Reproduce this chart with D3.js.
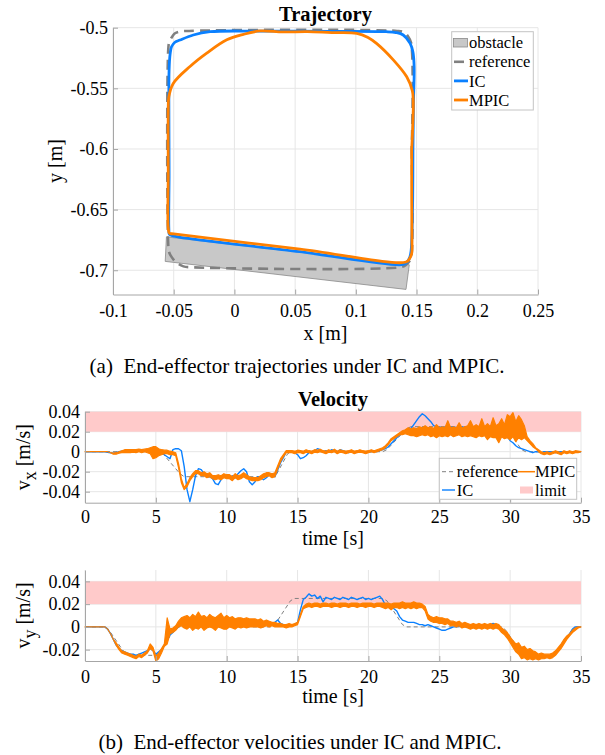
<!DOCTYPE html>
<html><head><meta charset="utf-8">
<script src="https://cdn.jsdelivr.net/npm/d3@7/dist/d3.min.js"></script>
<style>body{margin:0;background:#fff;} svg text{font-family:"Liberation Serif","Times New Roman",serif;}</style>
</head><body><svg id="c" width="605" height="755"></svg>
<script>
// ---------------- DATA ----------------
// Trajectory plot (metres)
const xTicks = [-0.1,-0.05,0,0.05,0.1,0.15,0.2,0.25];
const xTickLabels = ["-0.1","-0.05","0","0.05","0.1","0.15","0.2","0.25"];
const yTicks = [-0.5,-0.55,-0.6,-0.65,-0.7];
const yTickLabels = ["-0.5","-0.55","-0.6","-0.65","-0.7"];

const obstacleX = [-0.056, 0.144, 0.1413, -0.057];
const obstacleY = [-0.6725, -0.6955, -0.7158, -0.6927];

const refX = [0.146,0.146,0.1445,0.141,0.1365,-0.036,-0.042,-0.048,-0.0518,-0.0538,-0.0545,-0.0545,-0.0536,-0.051,-0.0489,-0.045,-0.040,0.134,0.1395,0.143,0.1455,0.146];
const refY = [-0.60,-0.686,-0.692,-0.6958,-0.6975,-0.6975,-0.6968,-0.6935,-0.689,-0.685,-0.679,-0.518,-0.5116,-0.507,-0.5046,-0.5032,-0.5027,-0.5027,-0.5038,-0.5072,-0.5125,-0.60];

const icX = [0.147,0.1468,0.1462,0.1455,0.1445,0.142,0.1378,0.054,-0.050,-0.0535,-0.0540,-0.0538,-0.0540,-0.0538,-0.0530,-0.0518,-0.0490,-0.0448,-0.0339,-0.020,0.02,0.08,0.125,0.133,0.139,0.1447,0.147,0.148,0.1475,0.147];
const icY = [-0.60,-0.64,-0.67,-0.684,-0.689,-0.6935,-0.6954,-0.6847,-0.6718,-0.6705,-0.666,-0.62,-0.56,-0.535,-0.522,-0.5157,-0.5120,-0.5102,-0.506,-0.5033,-0.5028,-0.503,-0.5033,-0.504,-0.506,-0.5129,-0.520,-0.532,-0.56,-0.60];

const mpicX = [0.146,0.146,0.1462,0.146,0.1445,0.1414,0.054,-0.050,-0.0535,-0.0545,-0.0545,-0.0545,-0.0540,-0.0504,-0.0366,-0.0228,-0.0063,0.0074,0.021,0.04,0.06,0.08,0.1007,0.110,0.117,0.131,0.1419,0.1465,0.1473,0.1465,0.146];
const mpicY = [-0.60,-0.64,-0.675,-0.686,-0.690,-0.6932,-0.6826,-0.6700,-0.6695,-0.665,-0.62,-0.57,-0.557,-0.546,-0.532,-0.521,-0.510,-0.5055,-0.5027,-0.5035,-0.5033,-0.504,-0.5046,-0.508,-0.5129,-0.5267,-0.5405,-0.552,-0.5597,-0.59,-0.60];

// Velocity plots (values in mm/s, sampled every 0.2 s from 0 to 35 s)
const timeTicks = [0,5,10,15,20,25,30,35];
const timeTickLabels = ["0","5","10","15","20","25","30","35"];
const vxTicks = [-40,-20,0,20,40];
const vxTickLabels = ["-0.04","-0.02","0","0.02","0.04"];
const vyTicks = [-20,0,20,40];
const vyTickLabels = ["-0.02","0","0.02","0.04"];
const limitLow = 20, limitHigh = 40;

const vxIC = [
 0,0,0,0,0,  0,0,0,-0.5,-1,  -1.5,-1,0,0.5,1,  0.5,1,0.5,1.5,1,  0.5,1,1.5,0.5,-0.5,
 0,-1,-2,-3,-5,  -7,2,3,3,1,  -15,-38,-50,-38,-24,  -17,-18,-22,-25,-25,  -27,-32,-33,-28,-24,
 -25,-26,-24,-26,-22,  -19,-17,-20,-30,-33,  -30,-25,-26,-28,-26,  -23,-22,-25,-18,-11,  -6,0,0,0,-1,
 -3,-7,-6,-4,-1,  0,1,3,2,0,  1,0,2,1,0,  2,1,0,-1,1,  0,0,1,0,0,
 0,0,1,0,1,  2,3,5,8,11,  14,17,19,21,22,  23,27,31,35,38,  36,33,30,26,25,
 24,25,23,25,24,  25,24,23,25,24,  23,25,24,24,25,  24,23,25,24,25,  24,23,22,19,15,
 11,9,6,4,3,  2,1,0,-1,0,  0,-1,0,0,0,  0,-1,0,0,0,  0,0,0,0,0,  0];
// MPIC is very noisy: lower / upper edge of the jitter band per sample
const vxMPICLow = [
 0,0,0,0,0,  0,0,0,0,-1,  -2.5,-2.5,-1.5,-1,-1,  -1,-1,-0.5,-1,0,  -1,0,-1,-2,-7,
 -6,-4,-3,-2,-2,  -3,-3,-4,-16,-31,  -38,-35,-29,-25,-22,  -22,-24,-24,-26,-25,  -27,-28,-27,-28,-26,
 -27,-27,-29,-26,-28,  -27,-25,-27,-28,-29,  -29,-29,-28,-26,-25,  -24,-26,-25,-17,-10,  -5,-1,-1,-1,-2,
 -1,-1,-2,-0.5,-1,  -2,-0.5,-1,0,-1,  -2,-0.5,-1,0,-2,  -0.5,-1,-2,-1,-0.5,  -2,-1,-0.5,-1,-2,
 -1,0,-1,0,1,  2,4,7,11,13,  15,17,17,18,17,  16,16,15,16,17,  16,17,15,16,14,
 16,15,16,15,17,  15,16,17,15,16,  15,16,15,14,16,  15,16,12,15,14,  14,9,15,13,14,
 12,15,10,14,12,  14,11,8,5,3,  0,-2,-3,-2,-3,  -2,-1,-2,-3,-1,  -2,-1,-2,-1,-1,  0];
const vxMPICHigh = [
 0,0,0,0,0,  0,0,0,0,-1,  -1.5,-1,0,1,2,  2,2,2,2,2.5,  2,2.5,3,4,5,
 5,3,2,1.5,1.5,  0.5,0,-1,-12,-27,  -36,-32,-26,-22,-19,  -19,-21,-20,-22,-21,  -24,-24,-23,-24,-22,
 -23,-23,-25,-22,-24,  -23,-21,-23,-25,-26,  -26,-26,-24,-22,-21,  -21,-22,-21,-14,-7,  -3,1,1,1,0.5,
 1.5,1,0.5,2,1,  0.5,2,1.5,2.5,1,  0.5,2,1,2.5,0.5,  2,1,0.5,1,2,  0.5,1,2,1,0.5,
 1,2,1,2,3,  4,6,9,13,15,  17,19,21,22,24,  23,24,23,25,24,  26,24,25,23,27,
 24,25,24,31,24,  25,24,29,24,25,  26,31,25,27,25,  33,25,28,25,34,  26,28,33,27,37,
 35,39,30,36,32,  26,15,11,8,4,  2,0,-1,0,-1,  0,1,0,-1,1,  0,1,0,1,0.5,  0];
const vyIC = [
 0,0,0,0,0,  0,0,0,-2,-6,  -11,-16,-19,-21,-22,  -23,-24,-24,-25,-24,  -23,-22,-21,-19,-21,
 -24,-22,-20,-16,-12,  -7,-5,-2,0,2,  2,3,2,3,4,  3,4,3,4,3,  4,5,3,4,3,
 4,3,3,4,2,  3,4,3,2,3,  3,2,3,3,2,  3,2,4,6,3,  2,1,1,2,2,
 4,15,24,26,29,  27,28,25,27,22,  26,25,24,26,25,  24,26,25,24,26,  25,24,25,26,24,
 25,24,25,26,27,  24,19,20,18,16,  14,9,6,5,4,  4,4,3,2,2,  1,2,1,0,-1,
 -2,-3,-3,-2,-1,  0,0,1,0,1,  0,1,0,1,2,  1,0,1,2,3,  2,0,-2,-4,-7,
 -10,-13,-16,-19,-22,  -24,-25,-26,-26,-25,  -27,-26,-25,-26,-27,  -26,-23,-20,-16,-12,  -9,-6,-2,0,0,  0];
const vyMPICLow = [
 0,0,0,0,0,  0,0,0,-2,-6,  -11,-16,-20,-23,-24,  -25,-26,-27,-28,-26,  -27,-25,-23,-19,-21,
 -30,-28,-23,-17,-15,  -6,-5,-3,0,1,  -1,-2,0,-3,-1,  -2,0,-3,-1,0,  -1,-3,0,-1,-2,
 -2,0,-1,-2,0,  -1,0,-1,0,0,  0,0,-1,0,1,  0,1,0,0,0,  0,-1,0,0,1,
 2,9,16,17,18,  17,18,18,17,18,  18,18,17,18,18,  17,18,18,17,18,  18,17,18,18,17,
 18,18,17,18,18,  17,16,17,15,17,  17,16,17,16,17,  16,17,16,17,17,  14,7,5,4,4,
 3,3,2,3,1,  1,0,1,-1,0,  -1,-2,-1,-2,-1,  -2,-1,-2,-1,-2,  -1,-2,-5,-7,-10,
 -14,-18,-22,-24,-28,  -27,-29,-28,-29,-28,  -29,-28,-28,-27,-28,  -27,-25,-22,-19,-15,  -11,-8,-5,-3,-1,  0];
const vyMPICHigh = [
 0,0,0,0,0,  0,0,0,-2,-6,  -11,-14,-18,-21,-22,  -23,-24,-25,-26,-24,  -25,-23,-21,-15,-18,
 -26,-23,-19,-15,8,  -2,-1,1,5,8,  9,10,8,11,9,  13,9,10,8,11,  9,8,10,12,8,
 10,8,9,7,8,  8,7,8,7,7,  7,6,7,5,6,  5,4,4,3,3,  2,2,3,2,3,
 4,11,18,20,21,  20,21,21,20,21,  21,20,21,21,20,  21,21,21,20,21,  21,21,20,21,21,
 21,21,20,21,21,  21,21,21,20,21,  21,21,22,21,21,  21,22,21,21,20,  18,11,9,8,9,
 8,8,7,7,5,  5,4,5,3,4,  3,2,3,2,3,  2,3,2,3,2,  3,2,-1,-3,-5,
 -9,-12,-15,-14,-18,  -17,-20,-19,-21,-22,  -24,-23,-24,-24,-24,  -23,-21,-18,-15,-11,  -8,-6,-3,-1,0,  0];
// reference velocity breakpoints [time s, mm/s]
const vxRefT = [0,5.2,5.5,6.7,7.0,13.2,13.5,14.3,14.6,21.0,21.3,22.7,23.0,29.5,29.8,30.8,31.1,35];
const vxRefV = [0,0,-2,-22,-25,-25,-23,-2,0,0,2,23,25,25,23,2,0,0];
const vyRefT = [0,1.4,1.7,2.8,3.1,5.0,5.3,6.3,6.6,13.1,13.4,14.5,14.8,21.0,21.3,22.4,22.7,29.4,29.7,30.8,31.1,33.0,33.3,34.4,34.7,35];
const vyRefV = [0,0,-3,-23,-25,-25,-22,-2,0,0,2,23,25,25,23,2,0,0,-3,-23,-25,-25,-22,-2,0,0];

const sampleStep = 0.2;
const time = vxIC.map((_, i) => +(i * sampleStep).toFixed(1));

// ---------------- STYLE ----------------
const BLUE = "#0a80ff", ORANGE = "#ff8000", GRAY = "#808080";
const AXC = "#a6a6a6", GRID = "#e6e6e6";
const FONT = '"Liberation Serif","Times New Roman",serif';
const svg = d3.select("#c");

function styleAxis(g, fs) {
  g.attr("font-family", FONT).attr("font-size", fs);
  g.select(".domain").attr("stroke", AXC).attr("stroke-width", 1);
  g.selectAll(".tick line").attr("stroke", AXC);
  g.selectAll(".tick text").attr("fill", "#000");
}

// ---------------- TRAJECTORY ----------------
const xT = d3.scaleLinear().domain([-0.1, 0.25]).range([113, 538]);
const yT = d3.scaleLinear().domain([-0.72, -0.5]).range([294.5, 27.7]);
const gT = svg.append("g");
gT.selectAll(".gx").data(xTicks).join("line").attr("x1", d => xT(d)).attr("x2", d => xT(d))
  .attr("y1", yT.range()[1]).attr("y2", yT.range()[0]).attr("stroke", GRID);
gT.selectAll(".gy").data(yTicks).join("line").attr("y1", d => yT(d)).attr("y2", d => yT(d))
  .attr("x1", xT.range()[0]).attr("x2", xT.range()[1]).attr("stroke", GRID);

gT.append("path").datum(obstacleX.map((x, i) => [x, obstacleY[i]]))
  .attr("d", d3.line().x(d => xT(d[0])).y(d => yT(d[1])).curve(d3.curveLinearClosed))
  .attr("fill", "#c8c8c8").attr("stroke", "#8a8a8a").attr("stroke-width", 0.8);

const lineT = d3.line().x(d => xT(d[0])).y(d => yT(d[1])).curve(d3.curveCatmullRom.alpha(0.5));
gT.append("path").datum(refX.map((x, i) => [x, refY[i]])).attr("d", lineT)
  .attr("fill", "none").attr("stroke", GRAY).attr("stroke-width", 2.6).attr("stroke-dasharray", "10,6");
gT.append("path").datum(icX.map((x, i) => [x, icY[i]])).attr("d", lineT)
  .attr("fill", "none").attr("stroke", BLUE).attr("stroke-width", 2.8).attr("stroke-linejoin", "round");
gT.append("path").datum(mpicX.map((x, i) => [x, mpicY[i]])).attr("d", lineT)
  .attr("fill", "none").attr("stroke", ORANGE).attr("stroke-width", 2.8).attr("stroke-linejoin", "round");

const axXT = gT.append("g").attr("transform", `translate(0,${yT.range()[0]})`)
  .call(d3.axisBottom(xT).tickValues(xTicks).tickFormat((d, i) => xTickLabels[i]).tickSize(-5).tickSizeOuter(0).tickPadding(9.4));
styleAxis(axXT, 18);
const axYT = gT.append("g").attr("transform", `translate(${xT.range()[0]},0)`)
  .call(d3.axisLeft(yT).tickValues(yTicks).tickFormat((d, i) => yTickLabels[i]).tickSize(-5).tickSizeOuter(0).tickPadding(5));
styleAxis(axYT, 18);

gT.append("text").attr("x", 325.5).attr("y", 20.5).attr("text-anchor", "middle")
  .attr("font-size", 20.5).attr("font-weight", "bold").text("Trajectory");
gT.append("text").attr("x", 325.5).attr("y", 340).attr("text-anchor", "middle")
  .attr("font-size", 20).text("x [m]");
gT.append("text").attr("transform", "translate(62,161) rotate(-90)").attr("text-anchor", "middle")
  .attr("font-size", 20).text("y [m]");

// legend (trajectory)
const lg = gT.append("g");
lg.append("rect").attr("x", 451.7).attr("y", 31.7).attr("width", 81.6).attr("height", 78.3)
  .attr("fill", "#fff").attr("stroke", "#c4c4c4").attr("stroke-width", 1);
const lgRows = [
  {label: "obstacle", type: "patch"},
  {label: "reference", type: "dash"},
  {label: "IC", type: "line", color: BLUE},
  {label: "MPIC", type: "line", color: ORANGE}];
lgRows.forEach((r, i) => {
  const cy = 42.7 + i * 19.1;
  if (r.type === "patch") lg.append("rect").attr("x", 453.5).attr("y", cy - 4.3).attr("width", 14).attr("height", 8.6)
      .attr("fill", "#c8c8c8").attr("stroke", "#8a8a8a").attr("stroke-width", 0.8);
  else if (r.type === "dash") lg.append("line").attr("x1", 454).attr("x2", 464).attr("y1", cy).attr("y2", cy)
      .attr("stroke", GRAY).attr("stroke-width", 2.6);
  else lg.append("line").attr("x1", 454).attr("x2", 468).attr("y1", cy).attr("y2", cy)
      .attr("stroke", r.color).attr("stroke-width", 2.8);
  lg.append("text").attr("x", 469).attr("y", cy + 5.6).attr("font-size", 16.5).text(r.label);
});

svg.append("text").attr("x", 297).attr("y", 373).attr("text-anchor", "middle").attr("font-size", 21)
  .attr("xml:space", "preserve").text("(a)  End-effector trajectories under IC and MPIC.");

// ---------------- VELOCITY ----------------
const xV = d3.scaleLinear().domain([0, 35]).range([85, 581]);
function velPlot(cfg) {
  const y = d3.scaleLinear().domain(cfg.domain).range(cfg.range);
  const g = svg.append("g");
  g.selectAll(".gx").data(timeTicks).join("line").attr("x1", d => xV(d)).attr("x2", d => xV(d))
    .attr("y1", cfg.range[1]).attr("y2", cfg.range[0]).attr("stroke", GRID);
  g.selectAll(".gy").data(cfg.ticks).join("line").attr("y1", d => y(d)).attr("y2", d => y(d))
    .attr("x1", xV.range()[0]).attr("x2", xV.range()[1]).attr("stroke", GRID);
  g.append("rect").attr("x", xV(0)).attr("width", xV(35) - xV(0))
    .attr("y", y(limitHigh)).attr("height", y(limitLow) - y(limitHigh)).attr("fill", "#ffcaca");
  g.append("path").datum(cfg.refT.map((t, i) => [t, cfg.refV[i]]))
    .attr("d", d3.line().x(d => xV(d[0])).y(d => y(d[1])))
    .attr("fill", "none").attr("stroke", GRAY).attr("stroke-width", 1).attr("stroke-dasharray", "4,3");
  const ln = d3.line().x(d => xV(d[0])).y(d => y(d[1]));
  g.append("path").datum(time.map((t, i) => [t, cfg.ic[i]])).attr("d", ln)
    .attr("fill", "none").attr("stroke", BLUE).attr("stroke-width", 1.4).attr("stroke-linejoin", "round");
  const band = d3.area().x(d => xV(d[0])).y0(d => y(d[1])).y1(d => y(d[2]));
  g.append("path").datum(time.map((t, i) => [t, cfg.mpicLow[i], cfg.mpicHigh[i]])).attr("d", band)
    .attr("fill", ORANGE).attr("stroke", ORANGE).attr("stroke-width", 1.2).attr("stroke-linejoin", "round");
  const ax = g.append("g").attr("transform", `translate(0,${cfg.range[0]})`)
    .call(d3.axisBottom(xV).tickValues(timeTicks).tickFormat((d, i) => timeTickLabels[i]).tickSize(-5).tickSizeOuter(0).tickPadding(cfg.xpad));
  styleAxis(ax, 18);
  const ay = g.append("g").attr("transform", `translate(${xV.range()[0]},0)`)
    .call(d3.axisLeft(y).tickValues(cfg.ticks).tickFormat((d, i) => cfg.tickLabels[i]).tickSize(-5).tickSizeOuter(0).tickPadding(5));
  styleAxis(ay, 18);
  g.append("text").attr("x", 333).attr("y", cfg.xlabelY).attr("text-anchor", "middle").attr("font-size", 20).text("time [s]");
  const yl = g.append("text").attr("transform", `translate(30,${(cfg.range[0] + cfg.range[1]) / 2}) rotate(-90)`)
    .attr("text-anchor", "middle").attr("font-size", 20);
  yl.append("tspan").text("v");
  yl.append("tspan").attr("dy", 6).attr("font-size", 18).text(cfg.sub);
  yl.append("tspan").attr("dy", -6).text(" [m/s]");
  return {g, y};
}

velPlot({domain: [-51, 40], range: [502.7, 411.7], ticks: vxTicks, tickLabels: vxTickLabels,
  ic: vxIC, mpicLow: vxMPICLow, mpicHigh: vxMPICHigh, refT: vxRefT, refV: vxRefV, xpad: 7.5, xlabelY: 545, sub: "x"});
velPlot({domain: [-30, 50], range: [661, 570], ticks: vyTicks, tickLabels: vyTickLabels,
  ic: vyIC, mpicLow: vyMPICLow, mpicHigh: vyMPICHigh, refT: vyRefT, refV: vyRefV, xpad: 9, xlabelY: 703, sub: "y"});

svg.append("text").attr("x", 333).attr("y", 405.5).attr("text-anchor", "middle")
  .attr("font-size", 20.5).attr("font-weight", "bold").text("Velocity");

// legend (velocity)
const lv = svg.append("g");
lv.append("rect").attr("x", 439.3).attr("y", 458.3).attr("width", 137.4).attr("height", 41)
  .attr("fill", "#fff").attr("stroke", "#c4c4c4").attr("stroke-width", 1);
const r1 = 471.7, r2 = 490;
lv.append("line").attr("x1", 442).attr("x2", 455).attr("y1", r1).attr("y2", r1)
  .attr("stroke", GRAY).attr("stroke-width", 1).attr("stroke-dasharray", "4,3");
lv.append("text").attr("x", 456.7).attr("y", r1 + 5.6).attr("font-size", 16.5).text("reference");
lv.append("line").attr("x1", 518).attr("x2", 535).attr("y1", r1).attr("y2", r1).attr("stroke", ORANGE).attr("stroke-width", 1.5);
lv.append("text").attr("x", 535).attr("y", r1 + 5.6).attr("font-size", 16.5).text("MPIC");
lv.append("line").attr("x1", 442).attr("x2", 455).attr("y1", r2).attr("y2", r2).attr("stroke", BLUE).attr("stroke-width", 1.4);
lv.append("text").attr("x", 456.7).attr("y", r2 + 5.6).attr("font-size", 16.5).text("IC");
lv.append("rect").attr("x", 520).attr("y", r2 - 3.5).attr("width", 13).attr("height", 7).attr("fill", "#ffcaca");
lv.append("text").attr("x", 535).attr("y", r2 + 5.6).attr("font-size", 16.5).text("limit");

svg.append("text").attr("x", 300).attr("y", 749).attr("text-anchor", "middle").attr("font-size", 21)
  .attr("xml:space", "preserve").text("(b)  End-effector velocities under IC and MPIC.");
</script></body></html>
